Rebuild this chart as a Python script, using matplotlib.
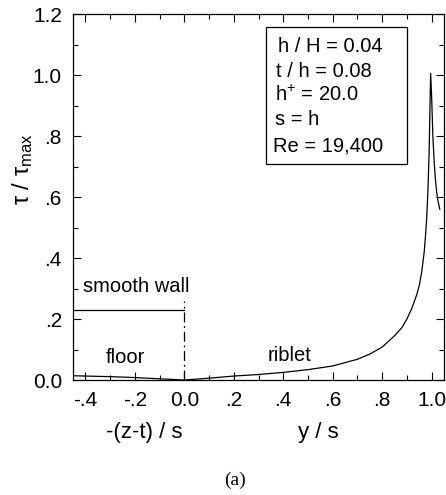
import matplotlib
matplotlib.use('Agg')
import matplotlib.pyplot as plt
from matplotlib.patches import Rectangle
from matplotlib.ticker import MultipleLocator

plt.rcParams['font.family'] = ['Liberation Sans', 'DejaVu Sans']
plt.rcParams['mathtext.fontset'] = 'custom'
plt.rcParams['mathtext.rm'] = 'Liberation Sans'
plt.rcParams['mathtext.it'] = 'Liberation Sans'
plt.rcParams['mathtext.bf'] = 'Liberation Sans:bold'

# wall shear stress along the riblet surface
riblet_y = [0.0, 0.1, 0.2, 0.3, 0.4, 0.5, 0.6, 0.7, 0.75, 0.8, 0.85, 0.88,
            0.9, 0.92, 0.94, 0.95, 0.96, 0.97, 0.975, 0.98, 0.985, 0.99,
            0.993, 0.996, 1.0, 1.005, 1.01, 1.015, 1.02, 1.025, 1.033]
riblet_tau = [0.0, 0.006, 0.013, 0.018, 0.025, 0.034, 0.046, 0.068, 0.085,
              0.108, 0.145, 0.172, 0.20, 0.235, 0.28, 0.31, 0.355, 0.42,
              0.47, 0.53, 0.62, 0.75, 0.88, 1.005, 0.93, 0.80, 0.72, 0.66,
              0.62, 0.59, 0.56]

# floor between riblets, plotted against -(z-t)/s
floor_z = [-0.45, -0.4, -0.3, -0.2, -0.1, 0.0]
floor_tau = [0.014, 0.013, 0.011, 0.008, 0.004, 0.0]

smooth_wall_tau = 0.228

params = ['h / H = 0.04', 't / h = 0.08', r'h$^{+}$ = 20.0', 's = h',
          'Re = 19,400']

xticks = [-0.4, -0.2, 0.0, 0.2, 0.4, 0.6, 0.8, 1.0]
xticklabels = ['-.4', '-.2', '0.0', '.2', '.4', '.6', '.8', '1.0']
yticks = [0.0, 0.2, 0.4, 0.6, 0.8, 1.0, 1.2]
yticklabels = ['0.0', '.2', '.4', '.6', '.8', '1.0', '1.2']

fig = plt.figure(figsize=(4.46, 4.95), dpi=100)
ax = fig.add_axes([0.1637, 0.2323, 0.8318, 0.7394])

lw = 0.9
ax.plot(riblet_y, riblet_tau, color='black', lw=lw)
ax.plot(floor_z, floor_tau, color='black', lw=lw)
ax.plot([-0.45, 0.0], [smooth_wall_tau, smooth_wall_tau], color='black', lw=lw)
ax.plot([0.0, 0.0], [0.0, 0.26], color='black', lw=lw, ls=(0, (8, 3, 1.5, 3)))

ax.set_xlim(-0.45, 1.05)
ax.set_ylim(0.0, 1.2)
ax.set_xticks(xticks)
ax.set_xticklabels(xticklabels)
ax.set_yticks(yticks)
ax.set_yticklabels(yticklabels)
ax.xaxis.set_minor_locator(MultipleLocator(0.1))
ax.yaxis.set_minor_locator(MultipleLocator(0.1))
ax.tick_params(which='both', direction='in', top=True, right=True,
               width=0.8, labelsize=15, pad=8)
ax.tick_params(which='major', length=6)
ax.tick_params(which='minor', length=3.5)
for sp in ax.spines.values():
    sp.set_linewidth(0.9)

ax.text(-0.41, 0.305, 'smooth wall', fontsize=14.5, va='center', ha='left')
ax.text(-0.24, 0.073, 'floor', fontsize=14.5, va='center', ha='center')
ax.text(0.425, 0.079, 'riblet', fontsize=14.5, va='center', ha='center')

ax.add_patch(Rectangle((0.33, 0.708), 0.57, 0.45, fill=False, lw=0.9,
                       ec='black'))
line_y = [1.095, 1.012, 0.936, 0.854, 0.766]
line_x = [0.378, 0.37, 0.366, 0.366, 0.358]
for txt, lx, ly in zip(params, line_x, line_y):
    ax.text(lx, ly, txt, fontsize=14.5, va='center', ha='left')

ax.text(-0.16, -0.172, '-(z-t) / s', fontsize=16, ha='center', va='center')
ax.text(0.54, -0.172, 'y / s', fontsize=16, ha='center', va='center')
ax.text(-0.135, 0.575, r'$\tau\ /\ \tau_{\rm max}$', fontsize=17,
        rotation=90, ha='center', va='center', transform=ax.transAxes)
fig.text(235 / 446, 1 - 480 / 495, '(a)', fontsize=14,
         family='Liberation Serif', ha='center', va='center')

fig.savefig('out.png', dpi=100)
